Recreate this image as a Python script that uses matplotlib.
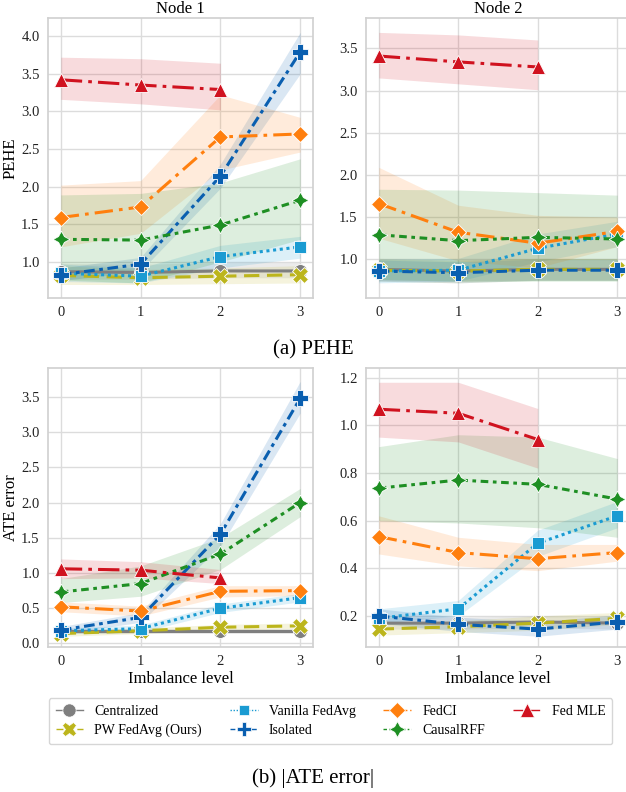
import numpy as np
import matplotlib.pyplot as plt
from matplotlib.lines import Line2D

plt.rcParams['font.family'] = ['Liberation Serif', 'DejaVu Serif']

levels = [0, 1, 2, 3]
methods = ['Centralized', 'PW FedAvg (Ours)', 'Vanilla FedAvg', 'Isolated',
           'FedCI', 'CausalRFF', 'Fed MLE']

# PEHE, node 1: mean, lower, upper
pehe1_mean = {
    'Centralized':      [0.87, 0.86, 0.88, 0.88],
    'PW FedAvg (Ours)': [0.82, 0.79, 0.81, 0.83],
    'Vanilla FedAvg':   [0.85, 0.81, 1.07, 1.20],
    'Isolated':         [0.83, 0.97, 2.14, 3.79],
    'FedCI':            [1.59, 1.73, 2.66, 2.70],
    'CausalRFF':        [1.30, 1.29, 1.49, 1.82],
    'Fed MLE':          [3.42, 3.35, 3.29],
}
pehe1_low = {
    'Centralized':      [0.77, 0.77, 0.79, 0.79],
    'PW FedAvg (Ours)': [0.70, 0.70, 0.71, 0.72],
    'Vanilla FedAvg':   [0.74, 0.72, 0.92, 1.05],
    'Isolated':         [0.75, 0.88, 1.98, 3.50],
    'FedCI':            [1.20, 1.38, 2.22, 2.46],
    'CausalRFF':        [0.76, 0.72, 1.00, 1.30],
    'Fed MLE':          [3.16, 3.10, 3.02],
}
pehe1_high = {
    'Centralized':      [0.98, 0.97, 0.99, 0.99],
    'PW FedAvg (Ours)': [0.95, 0.90, 0.92, 0.95],
    'Vanilla FedAvg':   [0.97, 0.92, 1.22, 1.34],
    'Isolated':         [0.92, 1.06, 2.30, 4.05],
    'FedCI':            [2.02, 2.08, 3.22, 2.92],
    'CausalRFF':        [1.89, 1.91, 2.05, 2.37],
    'Fed MLE':          [3.72, 3.70, 3.64],
}

# PEHE, node 2
pehe2_mean = {
    'Centralized':      [0.88, 0.86, 0.88, 0.88],
    'PW FedAvg (Ours)': [0.87, 0.86, 0.88, 0.88],
    'Vanilla FedAvg':   [0.86, 0.87, 1.13, 1.30],
    'Isolated':         [0.86, 0.84, 0.87, 0.87],
    'FedCI':            [1.66, 1.32, 1.19, 1.33],
    'CausalRFF':        [1.29, 1.22, 1.26, 1.24],
    'Fed MLE':          [3.41, 3.34, 3.28],
}
pehe2_low = {
    'Centralized':      [0.75, 0.74, 0.75, 0.75],
    'PW FedAvg (Ours)': [0.74, 0.72, 0.75, 0.75],
    'Vanilla FedAvg':   [0.72, 0.74, 0.97, 1.15],
    'Isolated':         [0.74, 0.72, 0.75, 0.75],
    'FedCI':            [1.25, 0.98, 0.90, 1.15],
    'CausalRFF':        [0.76, 0.74, 0.74, 0.74],
    'Fed MLE':          [3.15, 3.08, 3.01],
}
pehe2_high = {
    'Centralized':      [1.01, 0.99, 1.01, 1.01],
    'PW FedAvg (Ours)': [1.00, 0.99, 1.01, 1.01],
    'Vanilla FedAvg':   [1.00, 1.01, 1.30, 1.45],
    'Isolated':         [0.99, 0.97, 1.00, 1.00],
    'FedCI':            [2.09, 1.64, 1.52, 1.50],
    'CausalRFF':        [1.83, 1.82, 1.79, 1.76],
    'Fed MLE':          [3.69, 3.66, 3.60],
}

# |ATE error|, node 1
ate1_mean = {
    'Centralized':      [0.17, 0.17, 0.17, 0.17],
    'PW FedAvg (Ours)': [0.14, 0.18, 0.23, 0.25],
    'Vanilla FedAvg':   [0.18, 0.21, 0.50, 0.65],
    'Isolated':         [0.19, 0.37, 1.55, 3.48],
    'FedCI':            [0.52, 0.46, 0.74, 0.75],
    'CausalRFF':        [0.73, 0.85, 1.27, 2.00],
    'Fed MLE':          [1.06, 1.04, 0.93],
}
ate1_low = {
    'Centralized':      [0.14, 0.14, 0.14, 0.14],
    'PW FedAvg (Ours)': [0.10, 0.14, 0.19, 0.21],
    'Vanilla FedAvg':   [0.14, 0.16, 0.44, 0.59],
    'Isolated':         [0.14, 0.30, 1.38, 3.27],
    'FedCI':            [0.45, 0.39, 0.66, 0.68],
    'CausalRFF':        [0.58, 0.67, 1.05, 1.80],
    'Fed MLE':          [0.92, 0.93, 0.85],
}
ate1_high = {
    'Centralized':      [0.20, 0.20, 0.20, 0.20],
    'PW FedAvg (Ours)': [0.18, 0.22, 0.27, 0.29],
    'Vanilla FedAvg':   [0.22, 0.26, 0.56, 0.71],
    'Isolated':         [0.24, 0.44, 1.70, 3.72],
    'FedCI':            [0.59, 0.53, 0.82, 0.82],
    'CausalRFF':        [0.92, 1.10, 1.50, 2.20],
    'Fed MLE':          [1.20, 1.16, 1.05],
}

# |ATE error|, node 2
ate2_mean = {
    'Centralized':      [0.170, 0.170, 0.175, 0.170],
    'PW FedAvg (Ours)': [0.145, 0.155, 0.170, 0.190],
    'Vanilla FedAvg':   [0.190, 0.230, 0.505, 0.620],
    'Isolated':         [0.200, 0.165, 0.145, 0.175],
    'FedCI':            [0.533, 0.466, 0.440, 0.466],
    'CausalRFF':        [0.736, 0.770, 0.752, 0.690],
    'Fed MLE':          [1.067, 1.050, 0.940],
}
ate2_low = {
    'Centralized':      [0.145, 0.145, 0.150, 0.145],
    'PW FedAvg (Ours)': [0.120, 0.130, 0.140, 0.165],
    'Vanilla FedAvg':   [0.170, 0.200, 0.450, 0.570],
    'Isolated':         [0.170, 0.135, 0.115, 0.145],
    'FedCI':            [0.460, 0.410, 0.390, 0.430],
    'CausalRFF':        [0.600, 0.590, 0.570, 0.530],
    'Fed MLE':          [0.950, 0.930, 0.820],
}
ate2_high = {
    'Centralized':      [0.195, 0.195, 0.200, 0.195],
    'PW FedAvg (Ours)': [0.170, 0.180, 0.200, 0.215],
    'Vanilla FedAvg':   [0.230, 0.265, 0.560, 0.680],
    'Isolated':         [0.230, 0.195, 0.175, 0.205],
    'FedCI':            [0.620, 0.530, 0.500, 0.500],
    'CausalRFF':        [0.910, 0.960, 0.950, 0.860],
    'Fed MLE':          [1.180, 1.180, 1.070],
}

colors = {
    'Centralized': '#7f7f7f',
    'PW FedAvg (Ours)': '#bcb51c',
    'Vanilla FedAvg': '#1a9bd2',
    'Isolated': '#0a5fb0',
    'FedCI': '#ff7f0e',
    'CausalRFF': '#1e8f23',
    'Fed MLE': '#d0121f',
}
styles = {
    'Centralized': '-',
    'PW FedAvg (Ours)': (0, (5, 2.5)),
    'Vanilla FedAvg': (0, (1, 1.2)),
    'Isolated': (0, (3.5, 1.5, 1.2, 1.5)),
    'FedCI': (0, (6, 2, 1.2, 2)),
    'CausalRFF': (0, (2.5, 1.5, 1.2, 1.5)),
    'Fed MLE': (0, (7, 2, 1.2, 2)),
}
markers = {
    'Centralized': 'o',
    'PW FedAvg (Ours)': 'X',
    'Vanilla FedAvg': 's',
    'Isolated': 'P',
    'FedCI': 'D',
    'CausalRFF': (4, 1, 0),
    'Fed MLE': '^',
}
msizes = {
    'Centralized': 10, 'PW FedAvg (Ours)': 11, 'Vanilla FedAvg': 8,
    'Isolated': 11, 'FedCI': 8.5, 'CausalRFF': 12, 'Fed MLE': 10,
}


def draw_panel(ax, mean, low, high, ylim, yticks):
    for m in methods:
        x = levels[:len(mean[m])]
        ax.fill_between(x, low[m], high[m], color=colors[m], alpha=0.15,
                        linewidth=0)
        ax.plot(x, mean[m], color=colors[m], linestyle=styles[m],
                linewidth=2.2, marker=markers[m], markersize=msizes[m],
                markeredgecolor='white', markeredgewidth=0.6)
    ax.set_xlim(-0.16, 3.16)
    ax.set_ylim(*ylim)
    ax.set_xticks(levels)
    ax.set_yticks(yticks)
    ax.set_yticklabels(['%.1f' % t for t in yticks])
    ax.grid(True, color='#dcdcdc', linewidth=1)
    ax.set_axisbelow(True)
    ax.tick_params(length=0, labelsize=10.5, pad=6, colors='#222222')
    for s in ax.spines.values():
        s.set_color('#d0d0d0')
        s.set_linewidth(1.2)


fig = plt.figure(figsize=(6.26, 7.92), dpi=100)

ax1 = fig.add_axes([0.0767, 0.6237, 0.4233, 0.3535])
ax2 = fig.add_axes([0.5847, 0.6237, 0.4217, 0.3535])
ax3 = fig.add_axes([0.0767, 0.1831, 0.4233, 0.3523])
ax4 = fig.add_axes([0.5847, 0.1831, 0.4217, 0.3523])

draw_panel(ax1, pehe1_mean, pehe1_low, pehe1_high, (0.52, 4.24),
           [1.0, 1.5, 2.0, 2.5, 3.0, 3.5, 4.0])
draw_panel(ax2, pehe2_mean, pehe2_low, pehe2_high, (0.54, 3.86),
           [1.0, 1.5, 2.0, 2.5, 3.0, 3.5])
draw_panel(ax3, ate1_mean, ate1_low, ate1_high, (-0.05, 3.91),
           [0.0, 0.5, 1.0, 1.5, 2.0, 2.5, 3.0, 3.5])
draw_panel(ax4, ate2_mean, ate2_low, ate2_high, (0.07, 1.24),
           [0.2, 0.4, 0.6, 0.8, 1.0, 1.2])

ax1.set_title('Node 1', fontsize=12, pad=4)
ax2.set_title('Node 2', fontsize=12, pad=4)
ax1.set_ylabel('PEHE', fontsize=12)
ax3.set_ylabel('ATE error', fontsize=12)
ax1.yaxis.set_label_coords(-0.11, 0.5)
ax3.yaxis.set_label_coords(-0.11, 0.5)
ax3.set_xlabel('Imbalance level', fontsize=12, labelpad=2)
ax4.set_xlabel('Imbalance level', fontsize=12, labelpad=2)

fig.text(0.5, 1 - 350 / 792, '(a) PEHE', ha='center', va='center', fontsize=15)
fig.text(0.5, 1 - 778 / 792, '(b) |ATE error|', ha='center', va='center',
         fontsize=15)

handles = [Line2D([0], [0], color=colors[m], linestyle=styles[m], linewidth=1,
                  marker=markers[m], markersize=msizes[m] * 0.95,
                  markeredgecolor='white', markeredgewidth=0.5)
           for m in methods]
fig.legend(handles, methods, loc='center', bbox_to_anchor=(0.528, 0.0896),
           ncol=4, fontsize=10, frameon=True, edgecolor='#cccccc',
           handlelength=2.0, handletextpad=0.8, columnspacing=2.0,
           borderpad=0.5, labelspacing=0.45)

fig.savefig('out.png', dpi=100)
